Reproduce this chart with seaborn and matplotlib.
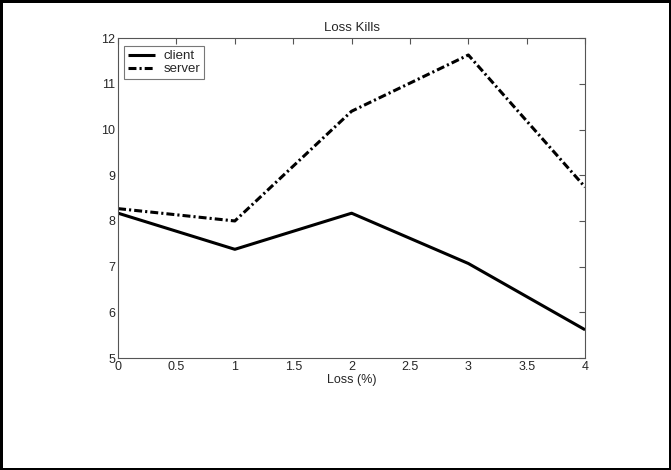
import numpy as np
import matplotlib
matplotlib.use("Agg")
import matplotlib.pyplot as plt
import pandas as pd
import seaborn as sns

loss = [0, 1, 2, 3, 4]
client = [8.17, 7.38, 8.17, 7.07, 5.62]
server = [8.27, 8.00, 10.40, 11.63, 8.74]

sns.set_style("white")
plt.rcParams['font.family'] = ['Liberation Sans', 'DejaVu Sans']

df = pd.DataFrame({"loss": loss * 2,
                   "kills": client + server,
                   "who": ["client"] * 5 + ["server"] * 5})

fig = plt.figure(figsize=(6.71, 4.70), dpi=100, linewidth=2.5, edgecolor='black')
ax = fig.add_axes([0.176, 0.238, 0.696, 0.681])

sns.lineplot(data=df, x="loss", y="kills", hue="who", style="who",
             palette=["black", "black"], dashes=[(1, 0), (2.6, 1.0, 0.7, 1.0)],
             linewidth=2.2, ax=ax)

ax.set_xlim(0, 4)
ax.set_ylim(5, 12)
ax.set_xticks(np.arange(0, 4.01, 0.5))
ax.set_xticklabels(["0", "0.5", "1", "1.5", "2", "2.5", "3", "3.5", "4"])
ax.set_yticks(range(5, 13))
ax.tick_params(direction="in", length=4, top=True, right=True, labelsize=9,
               color="#555555", pad=2)
for s in ax.spines.values():
    s.set_color("#555555")
    s.set_linewidth(0.8)

ax.set_title("Loss Kills", fontsize=9.5, pad=5)
ax.set_xlabel("Loss (%)", fontsize=9, labelpad=1)
ax.set_ylabel("")

leg = ax.legend(loc="upper left", fontsize=9.5, frameon=True, fancybox=False,
                edgecolor="#555555", handlelength=2.0, borderpad=0.3,
                labelspacing=0.05, borderaxespad=0, handletextpad=0.7,
                bbox_to_anchor=(0.013, 0.975))
leg.get_frame().set_linewidth(0.8)

fig.savefig("out.png", dpi=100)
